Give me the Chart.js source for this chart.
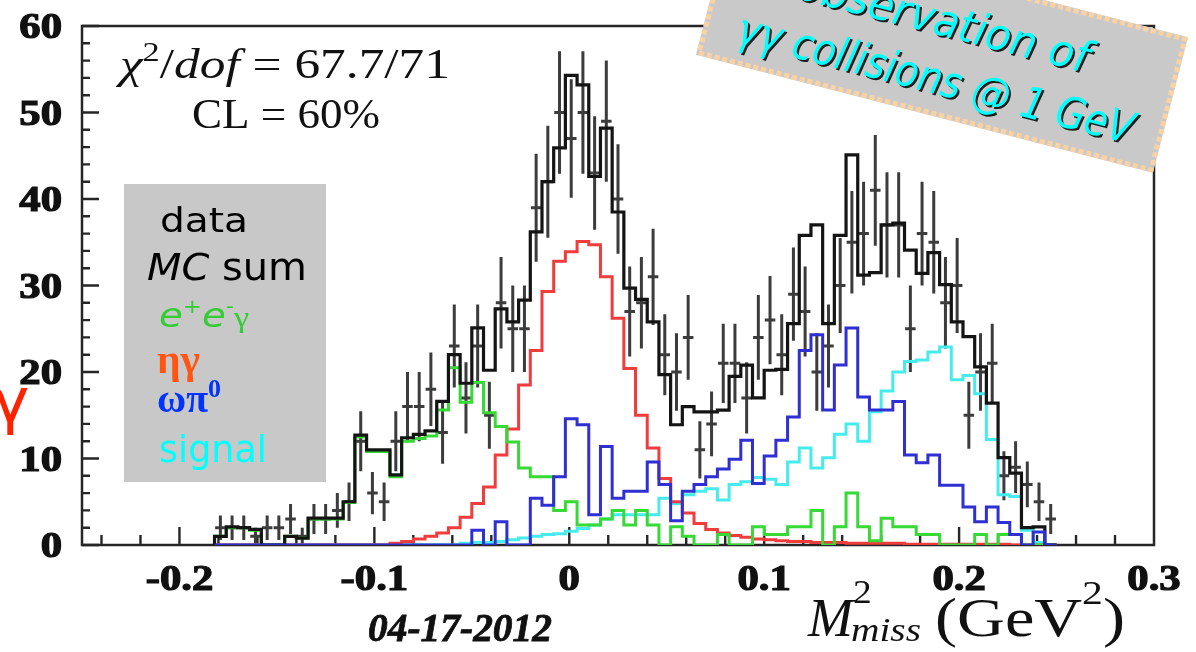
<!DOCTYPE html>
<html>
<head>
<meta charset="utf-8">
<title>M2 miss</title>
<script src="https://cdn.jsdelivr.net/npm/chart.js@4.4.0/dist/chart.umd.min.js"></script>
<style>
  html, body { margin: 0; padding: 0; background: #fff; }
  #wrap { width: 1196px; height: 652px; }
</style>
</head>
<body>
<div id="wrap"><canvas id="m2chart" width="1196" height="652"></canvas></div>
<script>
// histogram binning (GeV^2)
const binStart = -0.182;
const binWidth = 0.006;

// events per bin
const dataCounts = [2, 2, 2, 1, 2, 2, 3, 1, 3, 3,
  4, 5, 12, 6, 5, 12, 16, 16, 18, 13,
  23, 17, 23, 15, 28, 25, 25, 39, 42, 50,
  47, 50, 43, 49, 40, 27, 28, 31, 22, 20,
  24, 11, 14, 21, 21, 17, 24, 26, 22, 29,
  27, 20, 23, 30, 35, 36, 41, 37, 37, 25,
  36, 35, 28, 30, 15, 20, 21, 8, 9, 7,
  5, 3];

const mcSum = [1.0, 2.1, 2.0, 1.8, 0, 0, 1.0, 0.8, 3.1, 3.1,
  3.1, 5.0, 12.7, 11.0, 11.0, 8.1, 12.4, 12.8, 13.2, 16.6,
  22.0, 18.7, 25.1, 20.2, 27.3, 25.8, 28.3, 36.2, 42.0, 45.9,
  54.3, 53.2, 42.6, 48.2, 38.5, 29.7, 28.4, 25.8, 19.7, 13.9,
  16.0, 15.4, 15.4, 15.6, 19.5, 20.8, 17.0, 20.2, 20.3, 25.6,
  35.8, 37.0, 25.6, 35.8, 45.1, 31.2, 31.5, 37.0, 37.2, 34.1,
  31.4, 33.8, 30.1, 25.8, 24.1, 20.6, 16.4, 10.1, 8.3, 2.0,
  2.1, 0];

const eeGamma = [1.0, 2.0, 2.0, 1.7, 0, 0, 1.0, 0.8, 3.0, 3.0,
  3.0, 4.9, 12.5, 10.8, 10.8, 7.9, 12.0, 12.3, 12.6, 15.6,
  20.5, 16.5, 18.8, 15.3, 13.7, 11.9, 8.9, 7.9, 7.9, 4.0,
  5.0, 2.3, 2.3, 3.0, 4.0, 2.3, 4.0, 2.3, 0, 2.1,
  1.0, 0, 0, 1.2, 0, 0, 2.1, 1.2, 1.2, 2.1,
  2.1, 4.0, 0, 2.1, 6.0, 2.1, 0.5, 3.1, 2.1, 2.1,
  1.2, 1.2, 0, 0, 0, 1.2, 0, 1.2, 1.2, 0,
  0, 0];

const etaGamma = [0, 0, 0, 0, 0, 0, 0, 0, 0, 0,
  0, 0, 0, 0, 0, 0.2, 0.4, 0.7, 1.0, 1.4,
  2.0, 3.2, 4.8, 6.7, 10.4, 13.4, 18.5, 22.5, 29.3, 32.8,
  33.9, 35.1, 34.7, 31.0, 26.2, 20.4, 15.0, 11.2, 7.7, 5.0,
  3.7, 2.5, 1.8, 1.4, 1.1, 0.9, 0.7, 0.6, 0.5, 0.4,
  0.4, 0.3, 0.3, 0.3, 0.2, 0.2, 0.2, 0.2, 0.2, 0.1,
  0.1, 0.1, 0.1, 0.1, 0.1, 0.1, 0.1, 0.1, 0, 0,
  0, 0];

const omegaPi0 = [0, 0, 0, 0, 0, 0, 0, 0, 0, 0,
  0, 0, 0, 0, 0, 0, 0, 0, 0, 0,
  0, 0, 1.7, 0, 2.7, 0, 0, 5.4, 4.6, 7.9,
  14.6, 13.9, 3.5, 11.4, 5.4, 6.2, 6.2, 9.6, 7.0, 2.8,
  6.2, 7.0, 7.9, 8.8, 9.9, 12.1, 7.1, 10.3, 12.1, 14.8,
  22.5, 24.3, 15.6, 20.8, 25.1, 17.1, 15.6, 15.6, 16.6, 10.4,
  9.5, 10.4, 6.9, 6.9, 4.4, 2.7, 4.4, 2.6, 1.2, 0,
  1.5, 0];

const signalMC = [0, 0, 0, 0, 0, 0, 0, 0, 0, 0,
  0, 0, 0, 0, 0, 0, 0, 0, 0, 0,
  0, 0.2, 0.3, 0.3, 0.4, 0.6, 0.8, 1.0, 1.2, 1.3,
  1.6, 1.9, 2.3, 3.0, 3.5, 3.5, 3.5, 3.5, 5.4, 4.8,
  5.8, 6.2, 6.5, 5.2, 7.0, 7.3, 7.8, 7.6, 7.0, 9.6,
  11.2, 8.9, 10.1, 12.8, 14.0, 12.0, 15.4, 17.8, 20.0, 21.2,
  21.4, 22.3, 22.9, 19.1, 19.6, 17.5, 12.2, 5.8, 5.6, 1.7,
  0.3, 0];

const xTicks = [-0.2, -0.1, 0, 0.1, 0.2, 0.3];
const xTickLabels = ['-0.2', '-0.1', '0', '0.1', '0.2', '0.3'];
const yTicks = [0, 10, 20, 30, 40, 50, 60];
const yTickLabels = ['0', '10', '20', '30', '40', '50', '60'];

// outline of a histogram: left edge of every bin, closed down to zero at both ends
function stepPoints(values) {
  const pts = [{ x: binStart, y: 0 }];
  values.forEach((v, i) => pts.push({ x: binStart + i * binWidth, y: v }));
  pts.push({ x: binStart + values.length * binWidth, y: 0 });
  return pts;
}

const dataPoints = [];
dataCounts.forEach((n, i) => {
  if (n > 0) dataPoints.push({ x: binStart + (i + 0.5) * binWidth, y: n });
});

function histo(label, values, color, width) {
  return {
    label: label,
    data: stepPoints(values),
    stepped: true,
    borderColor: color,
    borderWidth: width || 3,
    pointRadius: 0,
    fill: false
  };
}

// text helpers
function stretchText(ctx, str, x, y, font, sx, align, bold) {
  ctx.save();
  ctx.font = font;
  ctx.translate(x, y);
  ctx.scale(sx, 1);
  ctx.textAlign = align || 'left';
  ctx.fillText(str, 0, 0);
  if (bold) {
    ctx.lineWidth = bold;
    ctx.strokeStyle = ctx.fillStyle;
    ctx.strokeText(str, 0, 0);
  }
  ctx.restore();
}

function fitText(ctx, str, x, y, font, width, align, bold) {
  ctx.font = font;
  const sx = width / ctx.measureText(str).width;
  stretchText(ctx, str, x, y, font, sx, align, bold);
}

function drawRuns(ctx, runs, x, y, width, color) {
  let total = 0;
  runs.forEach(r => { ctx.font = r.font; r.w = ctx.measureText(r.t).width; total += r.w; });
  const sx = width ? width / total : 1;
  ctx.save();
  ctx.translate(x, y);
  ctx.scale(sx, 1);
  ctx.textAlign = 'left';
  let cx = 0;
  runs.forEach(r => {
    ctx.font = r.font;
    ctx.fillStyle = r.color || color;
    ctx.fillText(r.t, cx, r.dy || 0);
    cx += r.w;
  });
  ctx.restore();
}

const SERIF = '"Liberation Serif", "DejaVu Serif", serif';
const SANS = '"DejaVu Sans", sans-serif';

// frame, tick marks and error bars go under the histograms
const axesPlugin = {
  id: 'axesPlugin',
  beforeDatasetsDraw(chart) {
    const { ctx, chartArea: a, scales: { x, y } } = chart;
    ctx.save();
    ctx.strokeStyle = '#262626';
    ctx.lineWidth = 2.5;
    ctx.strokeRect(a.left, a.top, a.right - a.left, a.bottom - a.top);

    ctx.lineWidth = 2.4;
    ctx.beginPath();
    for (let v = 0; v <= 60; v += 2) {
      const py = y.getPixelForValue(v);
      const len = v % 10 === 0 ? 17 : 8;
      ctx.moveTo(a.left, py);
      ctx.lineTo(a.left + len, py);
    }
    for (let k = -12; k < 15; k++) {
      const px = x.getPixelForValue(k * 0.02);
      const len = k % 5 === 0 ? 18 : 10;
      ctx.moveTo(px, a.bottom);
      ctx.lineTo(px, a.bottom - len);
    }
    ctx.stroke();

    // data points: sqrt(N) vertical bars and a bin-wide horizontal bar
    const meta = chart.getDatasetMeta(0);
    const half = (x.getPixelForValue(binWidth) - x.getPixelForValue(0)) * 0.45;
    ctx.strokeStyle = '#3c3c3c';
    ctx.lineWidth = 3;
    ctx.beginPath();
    meta.data.forEach((pt, i) => {
      const n = dataPoints[i].y;
      const err = Math.sqrt(n);
      ctx.moveTo(pt.x, y.getPixelForValue(n + err));
      ctx.lineTo(pt.x, y.getPixelForValue(Math.max(0, n - err)));
      ctx.moveTo(pt.x - half, pt.y);
      ctx.lineTo(pt.x + half, pt.y);
    });
    ctx.stroke();
    ctx.restore();
  },

  afterDraw(chart) {
    const { ctx, chartArea: a, scales: { x, y } } = chart;
    ctx.save();
    ctx.fillStyle = '#111';
    ctx.textBaseline = 'alphabetic';

    // tick labels
    const tickFont = 'bold 35px ' + SERIF;
    yTicks.forEach((v, i) => {
      stretchText(ctx, yTickLabels[i], 62, y.getPixelForValue(v) + 12, tickFont, 1.22, 'right', 1.2);
    });
    xTicks.forEach((v, i) => {
      stretchText(ctx, xTickLabels[i], x.getPixelForValue(v), 590, tickFont, 1.22, 'center', 1.2);
    });

    // fit result
    drawRuns(ctx, [
      { t: '\u03C7', font: 'italic 42px ' + SERIF },
      { t: '2', font: '28px ' + SERIF, dy: -17 },
      { t: '/', font: '42px ' + SERIF },
      { t: 'dof', font: 'italic 42px ' + SERIF },
      { t: ' = 67.7/71', font: '42px ' + SERIF }
    ], 120, 78, 330, '#111');
    fitText(ctx, 'CL = 60%', 192, 128, '42px ' + SERIF, 188);

    // axis title
    ctx.fillStyle = '#111';
    stretchText(ctx, 'M', 808, 636, 'italic 54px ' + SERIF, 1.0);
    stretchText(ctx, '2', 853, 603, '34px ' + SERIF, 1.1);
    fitText(ctx, 'miss', 851, 641, 'italic 34px ' + SERIF, 70);
    drawRuns(ctx, [
      { t: '(GeV', font: '54px ' + SERIF },
      { t: '2', font: '34px ' + SERIF, dy: -32 },
      { t: ')', font: '54px ' + SERIF }
    ], 935, 636, 190, '#111');

    // date
    fitText(ctx, '04-17-2012', 368, 641, 'bold italic 40px ' + SERIF, 184, 'left', 0.8);

    // legend box
    ctx.fillStyle = '#c8c8c8';
    ctx.fillRect(124, 184, 202, 298);
    ctx.fillStyle = '#000';
    fitText(ctx, 'data', 160, 232, '34px ' + SANS, 88);
    drawRuns(ctx, [
      { t: 'MC', font: 'italic 38px ' + SANS },
      { t: ' sum', font: '38px ' + SANS }
    ], 147, 280, 160, '#000');
    drawRuns(ctx, [
      { t: 'e', font: 'italic 34px ' + SANS },
      { t: '+', font: '20px ' + SANS, dy: -14 },
      { t: 'e', font: 'italic 34px ' + SANS },
      { t: '-', font: '20px ' + SANS, dy: -14 },
      { t: '\u03B3', font: '30px ' + SERIF }
    ], 159, 327, 90, '#33cc33');
    ctx.fillStyle = '#ff5511';
    fitText(ctx, '\u03B7\u03B3', 157, 373, 'bold 40px ' + SERIF, 43);
    drawRuns(ctx, [
      { t: '\u03C9\u03C0', font: 'bold 40px ' + SERIF },
      { t: '0', font: 'bold 26px ' + SERIF, dy: -15 }
    ], 157, 412, 64, '#0033ff');
    ctx.fillStyle = '#00ffff';
    fitText(ctx, 'signal', 159, 462, '38px ' + SANS, 108);

    // red gamma at the left edge
    ctx.fillStyle = '#ff2200';
    stretchText(ctx, '\u03B3', -9, 422, '62px ' + SANS, 1.05);

    // tilted banner
    ctx.save();
    ctx.translate(942, 46);
    ctx.rotate(14.5 * Math.PI / 180);
    ctx.fillStyle = '#c9c9c9';
    ctx.fillRect(-236, -70, 472, 140);
    ctx.strokeStyle = '#fcd2a2';
    ctx.lineWidth = 5;
    ctx.setLineDash([5, 3]);
    ctx.strokeRect(-233.5, -67.5, 467, 135);
    ctx.setLineDash([]);
    ctx.shadowColor = '#1c1c1c';
    ctx.shadowOffsetX = 2;
    ctx.shadowOffsetY = 2;
    ctx.fillStyle = '#00ffff';
    fitText(ctx, 'observation of', -5, -10, 'italic 44px ' + SANS, 300, 'center');
    fitText(ctx, '\u03B3\u03B3 collisions @ 1 GeV', 2, 48, 'italic 44px ' + SANS, 408, 'center');
    ctx.restore();

    ctx.restore();
  }
};

new Chart(document.getElementById('m2chart'), {
  type: 'line',
  data: {
    datasets: [
      { label: 'data', data: dataPoints, showLine: false, pointRadius: 0 },
      histo('omega pi0', omegaPi0, '#2f2fd2'),
      histo('MC sum', mcSum, '#141414', 3.2),
      histo('e+e- gamma', eeGamma, '#36d936'),
      histo('eta gamma', etaGamma, '#f03c3c'),
      histo('signal', signalMC, '#46ecec')
    ]
  },
  options: {
    responsive: false,
    animation: false,
    devicePixelRatio: 1,
    layout: { padding: { left: 82, right: 42, top: 26, bottom: 107 } },
    scales: {
      x: { type: 'linear', min: -0.25, max: 0.3, display: false },
      y: { type: 'linear', min: 0, max: 60, display: false }
    },
    plugins: { legend: { display: false }, tooltip: { enabled: false } }
  },
  plugins: [axesPlugin]
});
</script>
</body>
</html>
